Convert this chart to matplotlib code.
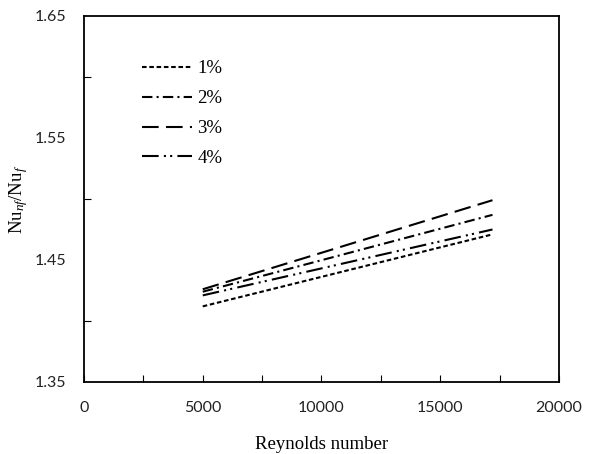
import matplotlib
matplotlib.use("Agg")
import matplotlib.pyplot as plt
from matplotlib.ticker import MultipleLocator

plt.rcParams['mathtext.fontset'] = 'custom'
plt.rcParams['mathtext.rm'] = 'Liberation Serif'
plt.rcParams['mathtext.it'] = 'Liberation Serif:italic'

# data
reynolds = [5000, 17200]
labels = ['1%', '2%', '3%', '4%']
ratio_1 = [1.412, 1.471]
ratio_2 = [1.424, 1.487]
ratio_3 = [1.426, 1.499]
ratio_4 = [1.421, 1.475]

styles = [
    (0, (2.2, 1.3)),
    (0, (5, 2, 1, 2)),
    (0, (8, 3.5)),
    (0, (8, 2.5, 1, 2, 1, 2.5)),
]

fig = plt.figure(figsize=(5.9, 4.54), dpi=100)
ax = fig.add_axes([0.1424, 0.1586, 0.805, 0.8062])

for ys, lab, ls in zip([ratio_1, ratio_2, ratio_3, ratio_4], labels, styles):
    ax.plot(reynolds, ys, color='black', lw=1.5, linestyle=ls, label=lab)

ax.set_xlim(0, 20000)
ax.set_ylim(1.35, 1.65)
ax.xaxis.set_major_locator(MultipleLocator(5000))
ax.xaxis.set_minor_locator(MultipleLocator(2500))
ax.set_yticks([1.35, 1.45, 1.55, 1.65])
ax.set_yticklabels(['1.35', '1.45', '1.55', '1.65'])
ax.set_yticks([1.40, 1.50, 1.60], minor=True)
ax.tick_params(which='both', direction='in', top=False, right=False, width=0.8)
ax.tick_params(which='major', length=5)
ax.tick_params(which='minor', length=5)
ax.tick_params(axis='x', which='major', pad=14)
ax.tick_params(axis='y', which='major', length=0, pad=13)
for lbl in ax.get_xticklabels() + ax.get_yticklabels():
    lbl.set_fontfamily('Lato')
    lbl.set_fontsize(11.5)
    lbl.set_color('#222222')
for sp in ax.spines.values():
    sp.set_linewidth(1.3)

ax.set_xlabel('Reynolds number', family='Liberation Serif', fontsize=13.5, labelpad=15)
ax.set_ylabel('Nu$_{nf}$/Nu$_{f}$', family='Liberation Serif', fontsize=13.5, labelpad=3)

leg = ax.legend(loc='upper left', bbox_to_anchor=(0.086, 0.925), frameon=False,
                prop={'family': 'Liberation Serif', 'size': 13.5},
                handlelength=2.7, handletextpad=0.27, labelspacing=0.68)

fig.savefig('out.png', dpi=100)
